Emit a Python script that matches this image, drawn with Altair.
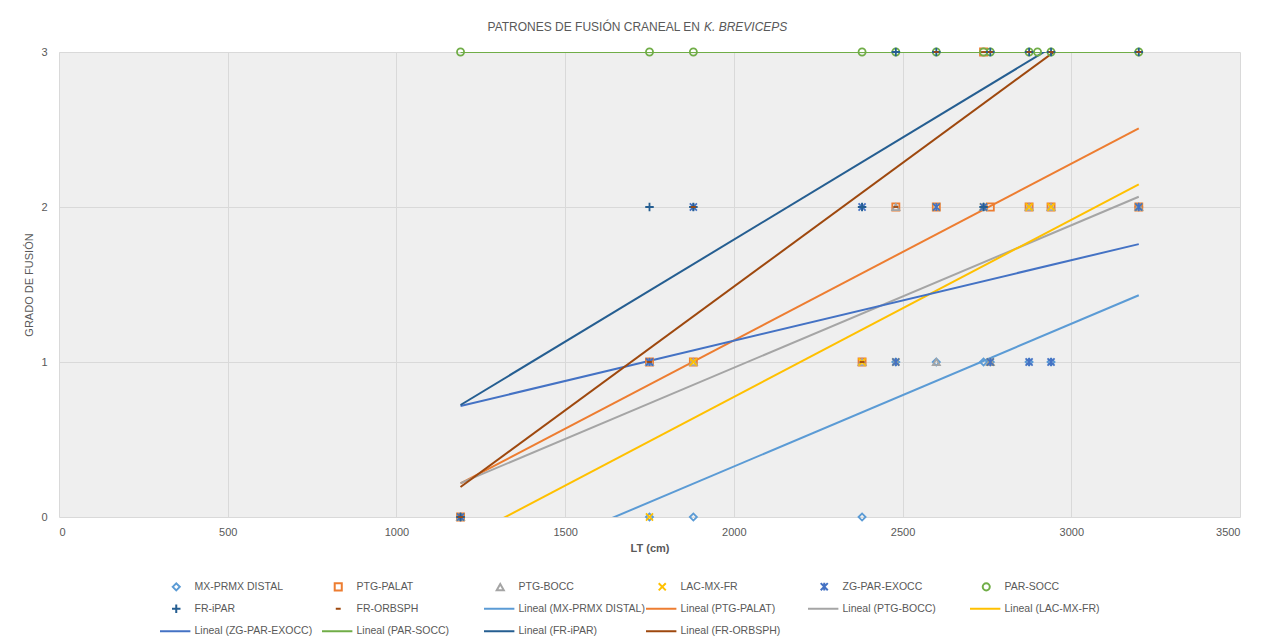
import altair as alt
import pandas as pd

# ---------------- data ----------------
SERIES = ["MX-PRMX DISTAL", "PTG-PALAT", "PTG-BOCC", "LAC-MX-FR",
          "ZG-PAR-EXOCC", "PAR-SOCC", "FR-iPAR", "FR-ORBSPH"]
COLORS = ["#5B9BD5", "#ED7D31", "#A5A5A5", "#FFC000",
          "#4472C4", "#70AD47", "#255E91", "#9E480E"]

LT = [1190, 1750, 1880, 2380, 2480, 2600, 2740, 2760, 2875, 2940, 3200]
LT_SOCC = [1190, 1750, 1880, 2380, 2480, 2600, 2740, 2760, 2875, 2900, 2940, 3200]

mx_prmx_distal = [0, 0, 0, 0, 1, 1, 1, 1, 1, 1, 2]
ptg_palat = [0, 1, 1, 1, 2, 2, 3, 2, 2, 2, 2]
ptg_bocc = [0, 1, 1, 1, 2, 1, 2, 1, 2, 2, 2]
lac_mx_fr = [0, 0, 1, 1, 1, 2, 2, 1, 2, 2, 2]
zg_par_exocc = [0, 1, 2, 2, 1, 2, 2, 1, 1, 1, 2]
par_socc = [3, 3, 3, 3, 3, 3, 3, 3, 3, 3, 3, 3]
fr_ipar = [0, 2, 2, 2, 3, 3, 2, 3, 3, 3, 3]
fr_orbsph = [0, 1, 2, 1, 2, 3, 3, 3, 3, 3, 3]

X_TICKS = [0, 500, 1000, 1500, 2000, 2500, 3000, 3500]
Y_TICKS = [0, 1, 2, 3]

TITLE_A = "PATRONES DE FUSIÓN CRANEAL EN"
TITLE_B = "K. BREVICEPS"

values = [mx_prmx_distal, ptg_palat, ptg_bocc, lac_mx_fr,
          zg_par_exocc, par_socc, fr_ipar, fr_orbsph]
rows = []
for i, (name, ys) in enumerate(zip(SERIES, values)):
    xs = LT_SOCC if name == "PAR-SOCC" else LT
    for x, y in zip(xs, ys):
        rows.append({"LT": x, "grado": y, "serie": name, "leyenda": name, "orden": i})
df = pd.DataFrame(rows)

# ---------------- scales / legend ----------------
LINE_NAMES = ["Lineal (%s)" % s for s in SERIES]
DOMAIN = SERIES + LINE_NAMES
RANGE_COLORS = COLORS + COLORS
LINE_PATH = "M-4.6,0L4,0"
SHAPES = ["diamond", "square", "triangle-up",
          "M-1,-1L1,1M-1,1L1,-1",
          "M-1,-1L1,1M-1,1L1,-1M0,-1.1L0,1.1",
          "circle",
          "M-1.2,0L1.2,0M0,-1.2L0,1.2",
          "M-0.7,0L0.7,0"] + [LINE_PATH] * 8

FONT = "Liberation Sans"
GREY = "#595959"

color_scale = alt.Scale(domain=DOMAIN, range=RANGE_COLORS)
shape_scale = alt.Scale(domain=DOMAIN, range=SHAPES)
legend = alt.Legend(title=None, orient="none", legendX=112, legendY=529,
                    direction="horizontal",
                    columns=6, gridAlign="all", columnPadding=-4, rowPadding=5.5,
                    symbolSize=50, symbolStrokeWidth=2, labelFontSize=10.5,
                    labelColor=GREY, labelFont=FONT, labelLimit=400,
                    labelOffset=13, padding=0)

x_enc = alt.X("LT:Q", scale=alt.Scale(domain=[0, 3500], nice=False),
              axis=alt.Axis(values=X_TICKS, title="LT (cm)", grid=True,
                            domain=False, ticks=False, labelPadding=9,
                            titlePadding=5, titleFontWeight="bold", format="d"))
y_enc = alt.Y("grado:Q", scale=alt.Scale(domain=[0, 3], nice=False),
              axis=alt.Axis(values=Y_TICKS, title="GRADO DE FUSIÓN", grid=True,
                            domain=False, ticks=False, labelPadding=12,
                            titlePadding=6, format="d"))

lines = alt.Chart(df).transform_regression(
    "LT", "grado", groupby=["serie"]
).transform_calculate(
    leyenda="'Lineal (' + datum.serie + ')'"
).mark_line(clip=True, strokeWidth=2).encode(
    x=x_enc, y=y_enc,
    color=alt.Color("leyenda:N", scale=color_scale, legend=legend),
)

points = alt.Chart(df).mark_point(filled=False, size=50, strokeWidth=1.8, opacity=1).encode(
    x=x_enc, y=y_enc,
    color=alt.Color("leyenda:N", scale=color_scale, legend=legend),
    shape=alt.Shape("leyenda:N", scale=shape_scale, legend=legend),
    order=alt.Order("orden:Q"),
)

title_df = pd.DataFrame({"a": [TITLE_A], "b": [TITLE_B]})
title_a = alt.Chart(title_df).mark_text(
    align="right", baseline="middle", fontSize=12, font=FONT, color=GREY
).encode(x=alt.value(641), y=alt.value(-25), text="a:N")
title_b = alt.Chart(title_df).mark_text(
    align="left", baseline="middle", fontSize=12, font=FONT, color=GREY, fontStyle="italic"
).encode(x=alt.value(645), y=alt.value(-25), text="b:N")

chart = alt.layer(lines, points, title_a, title_b).properties(
    width=1181, height=465,
    autosize=alt.AutoSizeParams(type="none"),
    padding={"left": 59, "top": 52, "right": 23, "bottom": 127},
    background="white",
).configure_view(
    stroke=None, fill="#efefef"
).configure_axis(
    gridColor="#d9d9d9", gridWidth=1, labelColor=GREY, labelFontSize=11,
    labelFont=FONT, titleColor=GREY, titleFontSize=11, titleFont=FONT,
    titleFontWeight="normal"
)

chart.save("out.html", embed_options={"renderer": "svg", "actions": False})
